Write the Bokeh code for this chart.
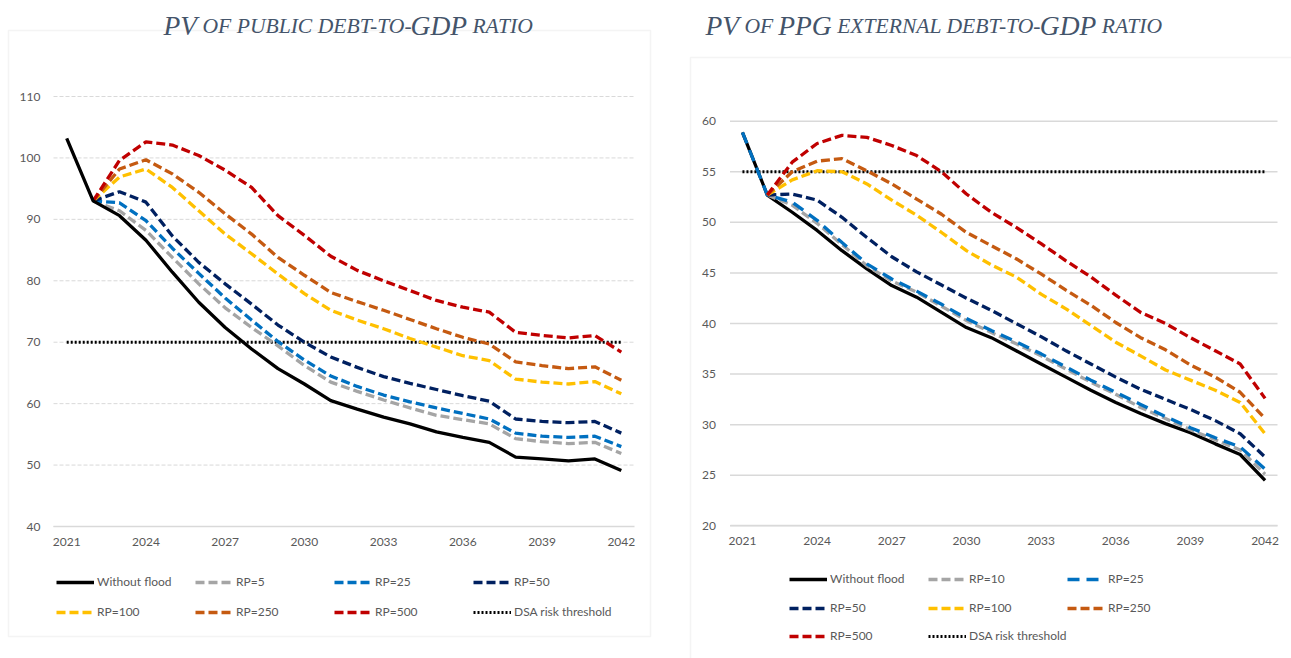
from bokeh.plotting import figure
from bokeh.models import (FixedTicker, Legend, LegendItem, Label, BoxAnnotation,
                          Range1d)
from bokeh.layouts import row
from bokeh.embed import file_html
from bokeh.resources import INLINE

NA = float("nan")

years = list(range(2021, 2043))
year_ticks = [2021, 2024, 2027, 2030, 2033, 2036, 2039, 2042]

# ---- PV of public debt-to-GDP ratio -------------------------------------
public_y_ticks = [40, 50, 60, 70, 80, 90, 100, 110]
public_without_flood = [103.2, 93.0, 90.6, 86.6, 81.4, 76.5, 72.4, 68.9, 65.7, 63.2, 60.5,
                        59.1, 57.8, 56.7, 55.4, 54.5, 53.7, 51.3, 51.0, 50.7, 51.0, 49.1]
public_rp5 = [NA, 93.0, 91.4, 88.2, 83.8, 79.5, 75.6, 72.4, 69.4, 66.2, 63.5,
              62.0, 60.6, 59.3, 58.1, 57.4, 56.7, 54.3, 53.8, 53.5, 53.7, 51.9]
public_rp25 = [NA, 93.0, 92.7, 89.8, 85.3, 81.2, 77.2, 73.6, 70.1, 67.1, 64.5,
               62.8, 61.4, 60.3, 59.3, 58.4, 57.5, 55.2, 54.7, 54.5, 54.7, 53.0]
public_rp50 = [NA, 93.0, 94.5, 92.8, 87.3, 83.0, 79.5, 76.2, 72.8, 70.0, 67.6,
               65.9, 64.4, 63.3, 62.3, 61.3, 60.4, 57.5, 57.1, 56.9, 57.1, 55.2]
public_rp100 = [NA, 93.0, 96.9, 98.2, 95.2, 91.4, 87.6, 84.4, 81.1, 77.9, 75.2,
                73.6, 72.2, 70.6, 69.2, 67.8, 67.0, 64.0, 63.5, 63.2, 63.6, 61.6]
public_rp250 = [NA, 93.0, 98.2, 99.7, 97.4, 94.4, 90.9, 87.6, 83.8, 80.9, 78.1,
                76.6, 75.2, 73.7, 72.2, 70.8, 69.7, 66.8, 66.2, 65.7, 66.0, 63.8]
public_rp500 = [NA, 93.0, 99.6, 102.6, 102.1, 100.4, 98.0, 95.2, 90.6, 87.4, 84.0,
                81.7, 80.0, 78.4, 76.8, 75.7, 74.9, 71.6, 71.1, 70.7, 71.1, 68.4]
public_threshold = [70.0] * len(years)

# ---- PV of PPG external debt-to-GDP ratio --------------------------------
external_y_ticks = [20, 25, 30, 35, 40, 45, 50, 55, 60]
external_without_flood = [58.9, 52.7, 51.0, 49.2, 47.2, 45.4, 43.75, 42.6, 41.1, 39.6, 38.6,
                          37.3, 36.0, 34.7, 33.4, 32.2, 31.1, 30.1, 29.2, 28.1, 27.05, 24.5]
external_rp10 = [NA, 52.7, 51.7, 49.9, 47.8, 45.7, 44.2, 43.1, 41.7, 40.3, 39.1,
                 38.0, 36.8, 35.5, 34.2, 33.0, 31.7, 30.6, 29.5, 28.5, 27.5, 25.1]
external_rp25 = [58.9, 52.7, 52.0, 50.2, 48.0, 45.9, 44.4, 43.2, 41.9, 40.5, 39.3,
                 38.2, 37.0, 35.7, 34.4, 33.2, 32.0, 30.8, 29.7, 28.7, 27.8, 25.6]
external_rp50 = [NA, 52.7, 52.8, 52.2, 50.5, 48.5, 46.6, 45.1, 43.8, 42.5, 41.3,
                 40.0, 38.7, 37.3, 36.0, 34.7, 33.5, 32.5, 31.5, 30.4, 29.1, 26.8]
external_rp100 = [NA, 52.7, 54.2, 55.1, 55.0, 53.8, 52.2, 50.7, 49.0, 47.2, 45.8,
                  44.6, 42.9, 41.45, 39.8, 38.15, 36.8, 35.4, 34.4, 33.4, 32.2, 29.1]
external_rp250 = [NA, 52.7, 55.0, 56.05, 56.3, 55.1, 53.8, 52.3, 50.8, 49.0, 47.7,
                  46.4, 44.9, 43.3, 41.8, 40.1, 38.6, 37.4, 35.9, 34.7, 33.2, 30.6]
external_rp500 = [NA, 52.7, 55.95, 57.8, 58.6, 58.4, 57.6, 56.6, 55.0, 52.8, 51.0,
                  49.5, 47.9, 46.2, 44.6, 42.8, 41.1, 40.0, 38.6, 37.3, 36.0, 32.6]
external_threshold = [55.0] * len(years)

# ---- styling --------------------------------------------------------------
HEIGHT = 658
TITLE_FONT = "Liberation Serif"
TITLE_COLOR = "#44546A"
TEXT_FONT = "Lato"
TEXT_COLOR = "#595959"
GRID_COLOR = "#d9d9d9"

BLACK, GREY, BLUE, NAVY = "#000000", "#a5a5a5", "#0070c0", "#002060"
YELLOW, ORANGE, RED = "#ffc000", "#c55a11", "#c00000"
DASH = "9 4"
LINE_W = 3.3

# advance widths (1/1000 em) of italic serif capitals, used to butt the
# large-cap and small-cap pieces of the titles against each other
ITALIC_CAPS = {" ": 250, "-": 333, "A": 611, "B": 611, "C": 667, "D": 722, "E": 611,
               "F": 611, "G": 722, "I": 333, "L": 556, "N": 667, "O": 722, "P": 611,
               "R": 611, "T": 556, "U": 722, "V": 611, "X": 611}
SMALL_FIT = 0.985


def add_title(p, parts, x0, baseline, big, small):
    x = x0
    for txt, is_big in parts:
        size = big if is_big else small
        fit = 1.0 if is_big else SMALL_FIT
        word = txt.strip()
        lead = len(txt) - len(txt.lstrip())
        trail = len(txt) - len(txt.rstrip())
        x += ITALIC_CAPS[" "] * lead * size / 1000
        p.add_layout(Label(x=x, y=HEIGHT - baseline, x_units="screen", y_units="screen",
                           text=word, text_font=TITLE_FONT, text_font_style="italic",
                           text_font_size=f"{size}px", text_color=TITLE_COLOR,
                           text_baseline="alphabetic", text_align="left"))
        x += sum(ITALIC_CAPS[c] for c in word) * size * fit / 1000
        x += ITALIC_CAPS[" "] * trail * size / 1000


def make_chart(width, px_x, px_y, y_lo, y_hi, yticks, dashed_grid, label_gap):
    """The frame covers the whole canvas; px_x / px_y give the canvas pixels
    of the plot area edges (category band 2020.5..2042.5 and y_lo..y_hi)."""
    x_lo, x_hi = 2020.5, 2042.5
    kx = (px_x[1] - px_x[0]) / (x_hi - x_lo)
    ky = (px_y[1] - px_y[0]) / (y_hi - y_lo)
    xr = Range1d(x_lo - px_x[0] / kx, x_hi + (width - px_x[1]) / kx)
    yr = Range1d(y_lo - (HEIGHT - px_y[1]) / ky, y_hi + px_y[0] / ky)

    p = figure(width=width, height=HEIGHT, x_range=xr, y_range=yr,
               output_backend="svg", toolbar_location=None,
               min_border=0, min_border_left=0, min_border_right=0,
               min_border_top=0, min_border_bottom=0)
    p.outline_line_color = None
    p.background_fill_color = "white"
    p.border_fill_color = "white"
    p.xgrid.visible = False
    p.ygrid.visible = False

    # horizontal gridlines across the plot area only
    n = len(yticks)
    if dashed_grid:
        p.segment(x0=[x_lo] * n, x1=[x_hi] * n, y0=yticks, y1=yticks,
                  line_color=GRID_COLOR, line_width=1, line_dash="4 2")
    else:
        p.segment(x0=[x_lo] * n, x1=[x_hi] * n, y0=yticks, y1=yticks,
                  line_color=GRID_COLOR, line_width=1.5)

    xa = p.xaxis[0]
    ya = p.yaxis[0]
    xa.fixed_location = y_lo
    xa.bounds = (x_lo, x_hi)
    xa.ticker = FixedTicker(ticks=year_ticks)
    xa.axis_line_color = GRID_COLOR
    xa.axis_line_width = 1.5
    xa.major_label_standoff = 11
    ya.fixed_location = x_lo
    ya.bounds = (y_lo, y_hi)
    ya.ticker = FixedTicker(ticks=yticks)
    ya.axis_line_color = None
    ya.major_label_standoff = label_gap
    for ax in (xa, ya):
        ax.major_tick_line_color = None
        ax.minor_tick_line_color = None
        ax.major_tick_out = 0
        ax.major_tick_in = 0
        ax.major_label_text_font = TEXT_FONT
        ax.major_label_text_font_size = "12px"
        ax.major_label_text_color = TEXT_COLOR
    return p


def add_legends(p, rows, x, centers):
    for items, cy in zip(rows, centers):
        leg = Legend(items=[LegendItem(label=lab, renderers=[r]) for lab, r in items],
                     location=(x, HEIGHT - cy - 7), orientation="horizontal",
                     glyph_width=38, glyph_height=14, label_height=14,
                     label_standoff=3, label_width=90, spacing=8, padding=0, margin=0,
                     border_line_color=None, background_fill_alpha=0,
                     label_text_font=TEXT_FONT, label_text_font_size="12px",
                     label_text_color=TEXT_COLOR)
        p.add_layout(leg)


def chart_box(p, left, right, top, bottom):
    p.add_layout(BoxAnnotation(left=left, right=right, top=HEIGHT - top,
                               bottom=HEIGHT - bottom,
                               left_units="screen", right_units="screen",
                               top_units="screen", bottom_units="screen",
                               fill_color=None, fill_alpha=0, level="underlay",
                               line_color=GRID_COLOR, line_width=1.5))


def threshold_line(p, values):
    return p.line(years, values, line_color=BLACK, line_width=3, line_dash="2 2")


# ---- left chart -------------------------------------------------------------
pl = make_chart(670, (53, 634), (96, 526), 40, 110, public_y_ticks, True, 13)
chart_box(pl, 8, 650, 30, 636)

l_thr = threshold_line(pl, public_threshold)
l_rp5 = pl.line(years, public_rp5, line_color=GREY, line_width=LINE_W, line_dash=DASH)
l_rp25 = pl.line(years, public_rp25, line_color=BLUE, line_width=LINE_W, line_dash=DASH)
l_rp50 = pl.line(years, public_rp50, line_color=NAVY, line_width=LINE_W, line_dash=DASH)
l_rp100 = pl.line(years, public_rp100, line_color=YELLOW, line_width=LINE_W, line_dash=DASH)
l_rp250 = pl.line(years, public_rp250, line_color=ORANGE, line_width=LINE_W, line_dash=DASH)
l_rp500 = pl.line(years, public_rp500, line_color=RED, line_width=LINE_W, line_dash=DASH)
l_base = pl.line(years, public_without_flood, line_color=BLACK, line_width=LINE_W)

add_legends(pl, [
    [("Without flood", l_base), ("RP=5", l_rp5), ("RP=25", l_rp25), ("RP=50", l_rp50)],
    [("RP=100", l_rp100), ("RP=250", l_rp250), ("RP=500", l_rp500),
     ("DSA risk threshold", l_thr)],
], 56, [582, 612])

add_title(pl, [("PV", True), (" OF PUBLIC DEBT-TO-", False), ("GDP", True),
               (" RATIO", False)], 163, 25, 27.5, 21.6)

# ---- right chart ------------------------------------------------------------
pr = make_chart(621, (59.5, 607), (120.7, 525.3), 20, 60, external_y_ticks, False, 14)
chart_box(pr, 20, 640, 57, 680)

r_base = pr.line(years, external_without_flood, line_color=BLACK, line_width=LINE_W)
r_thr = threshold_line(pr, external_threshold)
r_rp10 = pr.line(years, external_rp10, line_color=GREY, line_width=LINE_W, line_dash=DASH)
r_rp25 = pr.line(years, external_rp25, line_color=BLUE, line_width=LINE_W, line_dash="12 7")
r_rp50 = pr.line(years, external_rp50, line_color=NAVY, line_width=LINE_W, line_dash=DASH)
r_rp100 = pr.line(years, external_rp100, line_color=YELLOW, line_width=LINE_W, line_dash=DASH)
r_rp250 = pr.line(years, external_rp250, line_color=ORANGE, line_width=LINE_W, line_dash=DASH)
r_rp500 = pr.line(years, external_rp500, line_color=RED, line_width=LINE_W, line_dash=DASH)

add_legends(pr, [
    [("Without flood", r_base), ("RP=10", r_rp10), ("RP=25", r_rp25)],
    [("RP=50", r_rp50), ("RP=100", r_rp100), ("RP=250", r_rp250)],
    [("RP=500", r_rp500), ("DSA risk threshold", r_thr)],
], 119, [579, 608, 636])

add_title(pr, [("PV", True), (" OF ", False), ("PPG", True),
               (" EXTERNAL DEBT-TO-", False), ("GDP", True), (" RATIO", False)],
          35, 25, 27.5, 21.6)

layout = row(pl, pr)
open("out.html", "w").write(file_html(layout, INLINE, title="PV of debt-to-GDP ratios"))
